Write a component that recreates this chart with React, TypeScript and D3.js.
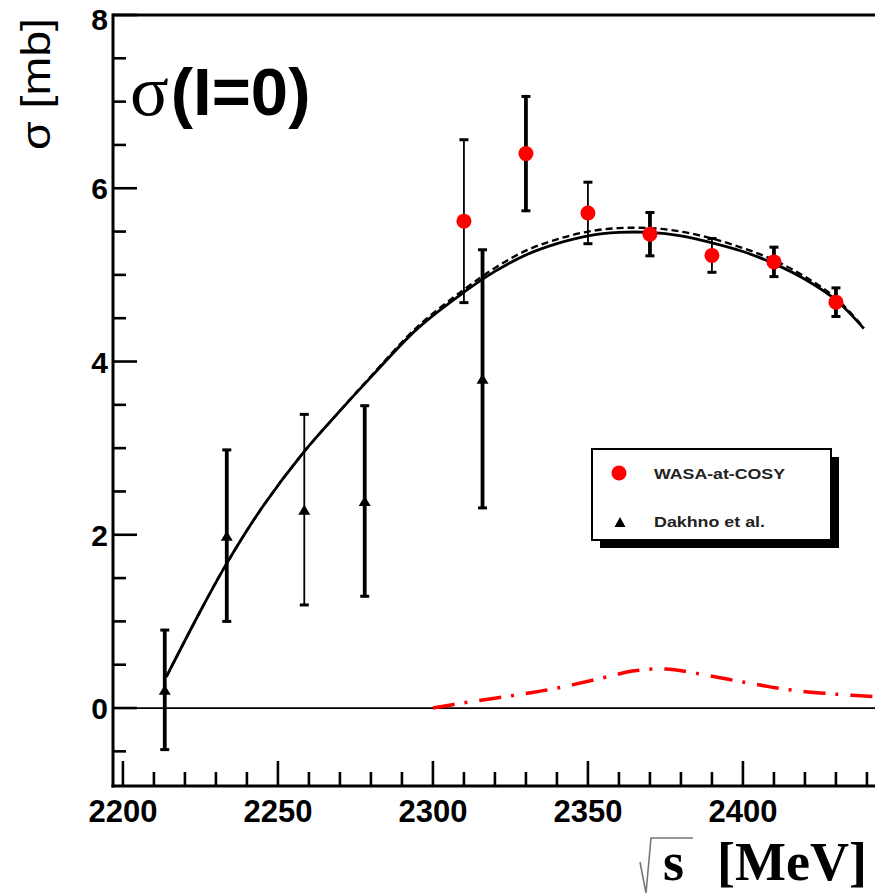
import React from 'react';
import * as d3 from 'd3';

// ---- data ----
const xTickLabels = [2200, 2250, 2300, 2350, 2400];
const yTickLabels = [0, 2, 4, 6, 8];

const wasaX = [2310, 2330, 2350, 2370, 2390, 2410, 2430];
const wasaY = [5.62, 6.40, 5.715, 5.47, 5.225, 5.15, 4.685];
const wasaErr = [0.94, 0.66, 0.355, 0.25, 0.195, 0.17, 0.165];

const dakhnoX = [2213.5, 2233.5, 2258.5, 2278, 2316];
const dakhnoY = [0.21, 1.99, 2.29, 2.39, 3.8];
const dakhnoErr = [0.69, 0.99, 1.1, 1.1, 1.49];

const fitX = [2214, 2225, 2233.5, 2245, 2258, 2270, 2280, 2295, 2310, 2320, 2330, 2340, 2350, 2360, 2370, 2380, 2390, 2400, 2410, 2420, 2430, 2439];
const fitY = [0.36, 1.12, 1.67, 2.32, 2.94, 3.43, 3.82, 4.38, 4.80, 5.04, 5.23, 5.36, 5.45, 5.49, 5.49, 5.45, 5.37, 5.27, 5.13, 4.95, 4.71, 4.38];
const fitDashY = [0.36, 1.12, 1.67, 2.32, 2.94, 3.43, 3.83, 4.40, 4.83, 5.08, 5.28, 5.41, 5.50, 5.54, 5.54, 5.50, 5.42, 5.31, 5.17, 4.98, 4.73, 4.39];

const resX = [2300, 2310, 2325, 2340, 2355, 2365, 2375, 2385, 2400, 2415, 2430, 2443];
const resY = [0, 0.06, 0.14, 0.23, 0.35, 0.43, 0.45, 0.40, 0.30, 0.21, 0.16, 0.13];

// ---- styles (kept apart from data) ----
const wasaBarWidth = [1.8, 3.8, 1.8, 3.8, 1.8, 3.8, 3.8];
const dakhnoBarWidth = [3.8, 3.8, 1.8, 3.8, 3.8];

const SANS = '"Liberation Sans", Arial, Helvetica, sans-serif';
const SERIF = '"Liberation Serif", "Times New Roman", serif';

export default function App() {
  const W = 875, H = 895;
  const x = d3.scaleLinear().domain([2196.8, 2442.6]).range([113, 875]);
  const y = d3.scaleLinear().domain([-0.9, 8]).range([786, 15]);
  const [x0, x1] = x.range();
  const [yB, yT] = y.range();

  const xMinor = d3.range(2200, 2443, 10);
  const yMinor = d3.range(-0.5, 8.01, 0.5);

  const line = d3.line<[number, number]>()
    .x(d => x(d[0])).y(d => y(d[1]))
    .curve(d3.curveCatmullRom.alpha(0.5));

  const fitPath = line(fitX.map((v, i) => [v, fitY[i]]) as [number, number][]) || '';
  const fitDashPath = line(fitX.map((v, i) => [v, fitDashY[i]]) as [number, number][]) || '';
  const resPath = line(resX.map((v, i) => [v, resY[i]]) as [number, number][]) || '';

  const cap = 4.5;
  const tri = (cx: number, cy: number, w: number, h: number) =>
    `M${cx - w / 2},${cy + h / 2}L${cx + w / 2},${cy + h / 2}L${cx},${cy - h / 2}Z`;

  return (
    <div style={{ position: 'absolute', left: 0, top: 0 }}>
      <svg width={W} height={H} style={{ display: 'block', background: '#fff' }}>
        {/* frame / axes */}
        <line x1={x0} x2={x1} y1={yT} y2={yT} stroke="#000" strokeWidth={3} />
        <line x1={x0} x2={x0} y1={yT - 1.5} y2={yB + 1.5} stroke="#000" strokeWidth={3} />
        <line x1={x0 - 1.5} x2={x1} y1={yB} y2={yB} stroke="#000" strokeWidth={3} />

        {/* x ticks */}
        {xMinor.map(v => {
          const major = v % 50 === 0;
          return (
            <line key={'xt' + v} x1={x(v)} x2={x(v)} y1={yB} y2={yB - (major ? 25 : 14)}
              stroke="#000" strokeWidth={2.6} />
          );
        })}
        {xTickLabels.map(v => (
          <text key={'xl' + v} x={x(v)} y={822} textAnchor="middle" fontFamily={SANS}
            fontWeight="bold" fontSize={31}>{v}</text>
        ))}

        {/* y ticks */}
        {yMinor.map(v => {
          const major = Math.abs(v % 2) < 1e-9;
          return (
            <line key={'yt' + v} x1={x0} x2={x0 + (major ? 24 : 13)} y1={y(v)} y2={y(v)}
              stroke="#000" strokeWidth={2.6} />
          );
        })}
        {yTickLabels.map(v => (
          <text key={'yl' + v} x={108} y={Math.max(y(v) + 11, 30)} textAnchor="end" fontFamily={SANS}
            fontWeight="bold" fontSize={30}>{v}</text>
        ))}

        {/* zero line */}
        <line x1={x0} x2={x1} y1={y(0)} y2={y(0)} stroke="#000" strokeWidth={1.8} />

        {/* isobar curve (red dash-dot) */}
        <path d={resPath} fill="none" stroke="#ff0000" strokeWidth={3.5}
          strokeDasharray="22 10 3 12" />

        {/* fit curves */}
        <path d={fitPath} fill="none" stroke="#000" strokeWidth={2.8} />
        <path d={fitDashPath} fill="none" stroke="#000" strokeWidth={2.4} strokeDasharray="7 4" />

        {/* Dakhno error bars + triangles */}
        {dakhnoX.map((v, i) => {
          const cx = x(v);
          const top = y(dakhnoY[i] + dakhnoErr[i]);
          const bot = y(dakhnoY[i] - dakhnoErr[i]);
          return (
            <g key={'dk' + i}>
              <line x1={cx} x2={cx} y1={top} y2={bot} stroke="#000" strokeWidth={dakhnoBarWidth[i]} />
              <line x1={cx - cap} x2={cx + cap} y1={top} y2={top} stroke="#000" strokeWidth={3} />
              <line x1={cx - cap} x2={cx + cap} y1={bot} y2={bot} stroke="#000" strokeWidth={3} />
              <path d={tri(cx, y(dakhnoY[i]), 12, 10)} fill="#000" />
            </g>
          );
        })}

        {/* WASA error bars + dots */}
        {wasaX.map((v, i) => {
          const cx = x(v);
          const top = y(wasaY[i] + wasaErr[i]);
          const bot = y(wasaY[i] - wasaErr[i]);
          return (
            <g key={'wa' + i}>
              <line x1={cx} x2={cx} y1={top} y2={bot} stroke="#000" strokeWidth={wasaBarWidth[i]} />
              <line x1={cx - cap} x2={cx + cap} y1={top} y2={top} stroke="#000" strokeWidth={3} />
              <line x1={cx - cap} x2={cx + cap} y1={bot} y2={bot} stroke="#000" strokeWidth={3} />
              <circle cx={cx} cy={y(wasaY[i])} r={7.5} fill="#ff0000" />
            </g>
          );
        })}

        {/* legend */}
        <rect x={600} y={457} width={239} height={91} fill="#000" />
        <rect x={592} y={449} width={239} height={91} fill="#fff" stroke="#000" strokeWidth={2} />
        <circle cx={619} cy={473} r={7.5} fill="#ff0000" />
        <text x={654} y={479} fontFamily={SANS} fontWeight="bold" fontSize={14} fill="#222"
          textLength={131} lengthAdjust="spacingAndGlyphs">WASA-at-COSY</text>
        <path d={tri(620, 522, 11, 10)} fill="#000" />
        <text x={654} y={527} fontFamily={SANS} fontWeight="bold" fontSize={14} fill="#222"
          textLength={111} lengthAdjust="spacingAndGlyphs">Dakhno et al.</text>

        {/* in-plot title */}
        <text x={130} y={115} fill="#000">
          <tspan fontFamily={SERIF} fontSize={72}>σ</tspan>
          <tspan fontFamily={SANS} fontWeight="bold" fontSize={67} dx={2}>(I=0)</tspan>
        </text>

        {/* y axis title */}
        <text transform="translate(50,84) rotate(-90)" textAnchor="middle" fontFamily={SANS}
          fontSize={40} textLength={132} lengthAdjust="spacingAndGlyphs">σ [mb]</text>

        {/* x axis title */}
        <path d="M640,862 L646,893 L651,838 L693,838" fill="none" stroke="#777" strokeWidth={1.6} />
        <text x={663} y={880} fontFamily={SERIF} fontWeight="bold" fontSize={54}>s</text>
        <text x={717} y={880} fontFamily={SERIF} fontWeight="bold" fontSize={54}>[MeV]</text>
      </svg>
    </div>
  );
}
